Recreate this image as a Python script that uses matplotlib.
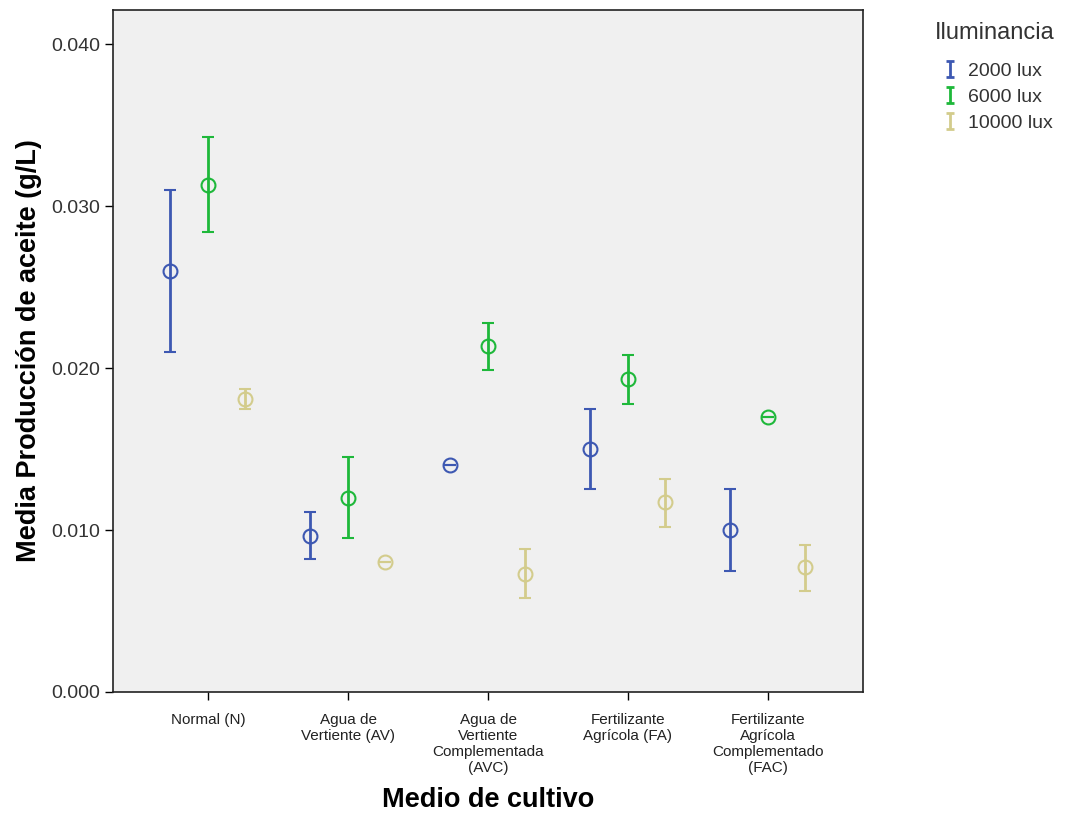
import matplotlib
matplotlib.use('Agg')
import matplotlib.pyplot as plt
import numpy as np
from matplotlib.path import Path
from matplotlib.lines import Line2D
from matplotlib.ticker import FormatStrFormatter

plt.rcParams['font.family'] = ['Liberation Sans', 'DejaVu Sans']

# Categorías (medio de cultivo)
categorias = ['Normal (N)', 'Agua de\nVertiente (AV)', 'Agua de\nVertiente\nComplementada\n(AVC)',
              'Fertilizante\nAgrícola (FA)', 'Fertilizante\nAgrícola\nComplementado\n(FAC)']
series = ['2000 lux', '6000 lux', '10000 lux']

# Medias por iluminancia
media_2000 = [0.0260, 0.00965, 0.0140, 0.0150, 0.0100]
media_6000 = [0.0313, 0.0120, 0.02135, 0.0193, 0.0170]
media_10000 = [0.0181, 0.0080, 0.0073, 0.0117, 0.0077]

# Límites inferior / superior de las barras de error
inf_2000 = [0.0210, 0.0082, 0.0140, 0.01253, 0.00747]
sup_2000 = [0.0310, 0.0111, 0.0140, 0.01747, 0.01253]
inf_6000 = [0.0284, 0.0095, 0.0199, 0.01778, 0.0170]
sup_6000 = [0.03426, 0.0145, 0.0228, 0.0208, 0.0170]
inf_10000 = [0.01747, 0.0080, 0.0058, 0.01019, 0.00623]
sup_10000 = [0.0187, 0.0080, 0.0088, 0.01315, 0.00907]

colores = ['#3D58B2', '#1EB83A', '#D3CC8C']
desplaz = [-0.27, 0.0, 0.265]

fig = plt.figure(figsize=(10.69, 8.14), dpi=100)
ax = fig.add_axes([113 / 1069, 1 - 692 / 814, 750 / 1069, 682 / 814])
ax.set_facecolor('#F0F0F0')

x = np.arange(len(categorias))
medias = [media_2000, media_6000, media_10000]
inferiores = [inf_2000, inf_6000, inf_10000]
superiores = [sup_2000, sup_6000, sup_10000]

for m, lo, hi, c, d in zip(medias, inferiores, superiores, colores, desplaz):
    m = np.array(m)
    err = [m - np.array(lo), np.array(hi) - m]
    ax.errorbar(x + d, m, yerr=err, fmt='o', mfc='none', mec=c, mew=1.5, ms=10,
                ecolor=c, elinewidth=2, capsize=4, capthick=2.5, zorder=3)

ax.set_xlim(-0.68, 4.68)
ax.set_ylim(0, 0.0421)
ax.set_yticks([0, 0.01, 0.02, 0.03, 0.04])
ax.yaxis.set_major_formatter(FormatStrFormatter('%.3f'))
ax.set_xticks(x)
ax.set_xticklabels(categorias, fontsize=11, linespacing=1.2, color='#222222')
ax.tick_params(axis='y', labelsize=14, length=6, width=1, labelcolor='#333333')
ax.tick_params(axis='x', length=6, width=1, pad=9)
for s in ax.spines.values():
    s.set_linewidth(1.2)
    s.set_color('#222222')

ax.set_ylabel('Media Producción de aceite (g/L)', fontsize=19.5, fontweight='bold', labelpad=6)
ax.set_xlabel('Medio de cultivo', fontsize=19.5, fontweight='bold', labelpad=8)

# Leyenda: título aparte y marcador en forma de "I"
fig.text(935 / 1069, 1 - 33 / 814, 'Iluminancia', fontsize=17, color='#333333',
         ha='left', va='center')
i_path = Path([(-0.5, 1), (0.5, 1), (0, 1), (0, -1), (-0.5, -1), (0.5, -1)],
              [Path.MOVETO, Path.LINETO, Path.MOVETO, Path.LINETO, Path.MOVETO, Path.LINETO])
handles = [Line2D([], [], linestyle='none', marker=i_path, ms=12, mew=2, color=c) for c in colores]
leg = fig.legend(handles, series, loc='upper left', bbox_to_anchor=(927 / 1069, 1 - 49 / 814),
                 frameon=False, fontsize=14, handlelength=1.0, handletextpad=0.4,
                 labelspacing=0.42, borderpad=0.2)
for t in leg.get_texts():
    t.set_color('#333333')

fig.savefig('out.png', dpi=100)
